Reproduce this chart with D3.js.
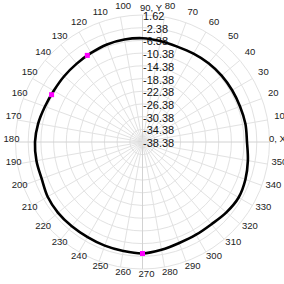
<!DOCTYPE html>
<html><head><meta charset="utf-8">
<script src="https://cdn.jsdelivr.net/npm/d3@7"></script>
<style>body{margin:0;background:#fff}svg{display:block}</style>
</head><body><svg id="c" width="284" height="284"></svg>
<script>
// Pattern data (angle in degrees, level in dB)
const angles = [0,10,20,30,40,50,60,70,80,90,100,110,120,130,140,150,160,170,180,190,200,210,220,230,240,250,260,270,280,290,300,310,320,330,340,350];
const values = [-5.47,-5.47,-5.69,-5.78,-5.85,-6.0,-6.25,-6.41,-6.1,-5.69,-5.62,-5.69,-6.0,-6.16,-6.16,-6.1,-5.69,-5.0,-4.52,-4.46,-4.58,-3.89,-3.67,-3.74,-3.8,-3.64,-3.52,-3.26,-3.89,-4.52,-4.65,-4.58,-3.89,-3.42,-3.89,-4.68];
const markerAngles = [122.5,152.5,270];
const markerValues = [-6.03,-6.1,-3.26];
const radialTicks = [1.62,-2.38,-6.38,-10.38,-14.38,-18.38,-22.38,-26.38,-30.38,-34.38,-38.38];
const angleTicks = [0,10,20,30,40,50,60,70,80,90,100,110,120,130,140,150,160,170,180,190,200,210,220,230,240,250,260,270,280,290,300,310,320,330,340,350];
const angleLabels = ["0, X","10","20","30","40","50","60","70","80","90, Y","100","110","120","130","140","150","160","170","180","190","200","210","220","230","240","250","260","270","280","290","300","310","320","330","340","350"];

const cx = 142.5, cy = 142, R = 127;
const svg = d3.select("#c");
const g = svg.append("g").attr("transform", `translate(${cx},${cy})`);
const r = d3.scaleLinear().domain([-38.38, 1.62]).range([0, R]);
// d3 radial angle: clockwise from 12 o'clock; chart angle: counter-clockwise from 3 o'clock
const a = d3.scaleLinear().domain([0, 360]).range([Math.PI / 2, Math.PI / 2 - 2 * Math.PI]);
const px = (deg, rad) => rad * Math.sin(a(deg));
const py = (deg, rad) => -rad * Math.cos(a(deg));

// grid rings
g.selectAll("circle.ring").data(radialTicks.slice(0, -1)).join("circle")
  .attr("r", d => r(d)).attr("fill", "none").attr("stroke", "#e2e2e2").attr("stroke-width", 1);
// spokes
g.selectAll("line.spoke").data(angleTicks).join("line")
  .attr("x1", 0).attr("y1", 0)
  .attr("x2", d => px(d, R)).attr("y2", d => py(d, R))
  .attr("stroke", d => d % 90 === 0 ? "#d2d2d2" : "#e2e2e2").attr("stroke-width", 1);

// angle labels: centred on a ring of labels slightly offset from the plot centre
const LR = 135;
g.selectAll("text.ang").data(angleTicks).join("text")
  .attr("x", d => d === 90 ? -2.5 : d === 0 ? px(d, LR) : px(d, LR) + 4)
  .attr("y", d => d === 90 ? py(d, LR) + 0.5 : py(d, LR) - 3.5)
  .attr("text-anchor", d => d === 90 ? "start" : "middle")
  .attr("dominant-baseline", "central")
  .attr("font-family", "Liberation Sans, Arial, sans-serif")
  .attr("font-size", 9.5).attr("fill", "#222")
  .text((d, i) => angleLabels[i]);

// radial tick labels
g.selectAll("text.rad").data(radialTicks).join("text")
  .attr("x", 0.5).attr("y", d => -r(d) + 1)
  .attr("text-anchor", "start").attr("dominant-baseline", "central")
  .attr("font-family", "Liberation Sans, Arial, sans-serif")
  .attr("font-size", 11).attr("fill", "#111")
  .text(d => d.toFixed(2));

// curve
const pts = angles.map((d, i) => [a(d), r(values[i])]);
g.append("path")
  .attr("d", d3.lineRadial().curve(d3.curveCatmullRomClosed.alpha(0.5))(pts))
  .attr("fill", "none").attr("stroke", "#000").attr("stroke-width", 2.6);

// markers
g.selectAll("rect.mk").data(markerAngles).join("rect")
  .attr("x", (d, i) => px(d, r(markerValues[i])) - 2.5)
  .attr("y", (d, i) => py(d, r(markerValues[i])) - 2.5)
  .attr("width", 5).attr("height", 5).attr("fill", "#ff00ff");
</script></body></html>
